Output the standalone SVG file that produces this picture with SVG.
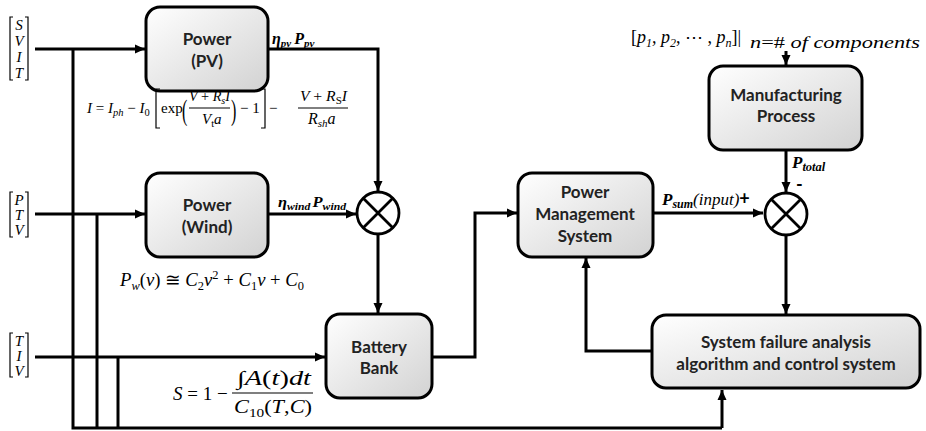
<svg xmlns="http://www.w3.org/2000/svg" width="926" height="431" viewBox="0 0 926 431">
<defs>
<linearGradient id="g" x1="0" y1="0" x2="1" y2="1">
<stop offset="0" stop-color="#ffffff"/>
<stop offset="1" stop-color="#d2d2d2"/>
</linearGradient>
<marker id="ar" markerUnits="userSpaceOnUse" markerWidth="11" markerHeight="10" refX="10" refY="5" orient="auto">
<path d="M0,0.5 L10,5 L0,9.5 z" fill="#000"/>
</marker>
</defs>
<style>
.box{fill:url(#g);stroke:#000;stroke-width:3}
.lbl{font-family:Lato,"Open Sans","Liberation Sans",sans-serif;font-weight:bold;font-size:17px;text-anchor:middle;fill:#222}
.m{font-family:"Liberation Serif","DejaVu Serif",serif;font-style:italic;fill:#000}
.u{font-style:normal}
.bi{font-family:"Liberation Serif","DejaVu Serif",serif;font-style:italic;font-weight:bold;fill:#000}
.c{fill:none;stroke:#000;stroke-width:3}
.ca{fill:none;stroke:#000;stroke-width:3;marker-end:url(#ar)}
.br{fill:none;stroke:#000;stroke-width:1.2}
.sum{fill:#fff;stroke:#000;stroke-width:2.8}
</style>
<rect width="926" height="431" fill="#fff"/>

<g id="connectors">
<path class="ca" d="M35,49 H145"/>
<path class="c" d="M73,49 V428 H722"/>
<path class="ca" d="M722,428 V390"/>
<path class="ca" d="M35,214 H145"/>
<path class="c" d="M97,214 V428"/>
<path class="ca" d="M35,357 H325"/>
<path class="c" d="M118,357 V428"/>
<path class="ca" d="M268,49 H378 V191"/>
<path class="ca" d="M268,214 H356"/>
<path class="ca" d="M378,235 V313"/>
<path class="ca" d="M432,357 H475 V213 H517"/>
<path class="ca" d="M653,213 H763"/>
<path class="ca" d="M786,51 V65"/>
<path class="ca" d="M786,150 V192"/>
<path class="ca" d="M786,235 V314"/>
<path class="ca" d="M652,351 H586 V258"/>
</g>

<g id="in-svit">
<path class="br" d="M13,17 H10 V80 H13 M25,17 H28 V80 H25"/>
<g class="m" font-size="15" text-anchor="middle">
<text x="19" y="30">S</text><text x="19" y="46">V</text><text x="19" y="62">I</text><text x="19" y="78">T</text>
</g>
</g>
<g id="in-ptv">
<path class="br" d="M13,192 H10 V237 H13 M25,192 H28 V237 H25"/>
<g class="m" font-size="15" text-anchor="middle">
<text x="19" y="205">P</text><text x="19" y="220">T</text><text x="19" y="235">V</text>
</g>
</g>
<g id="in-tiv">
<path class="br" d="M13,333 H10 V377 H13 M25,333 H28 V377 H25"/>
<g class="m" font-size="15" text-anchor="middle">
<text x="19" y="346">T</text><text x="19" y="361">I</text><text x="19" y="376">V</text>
</g>
</g>

<g id="pv">
<rect class="box" x="146" y="7" width="122" height="84" rx="14"/>
<text class="lbl" x="207" y="45">Power</text>
<text class="lbl" x="207" y="67">(PV)</text>
</g>
<g id="wind">
<rect class="box" x="146" y="173" width="122" height="84" rx="14"/>
<text class="lbl" x="207" y="211">Power</text>
<text class="lbl" x="207" y="233">(Wind)</text>
</g>
<g id="battery">
<rect class="box" x="326" y="314" width="106" height="84" rx="14"/>
<text class="lbl" x="379" y="353">Battery</text>
<text class="lbl" x="379" y="374">Bank</text>
</g>
<g id="pms">
<rect class="box" x="518" y="173" width="135" height="84" rx="14"/>
<text class="lbl" x="585" y="198">Power</text>
<text class="lbl" x="585" y="220">Management</text>
<text class="lbl" x="585" y="242">System</text>
</g>
<g id="mfg">
<rect class="box" x="709" y="66" width="153" height="84" rx="14"/>
<text class="lbl" x="786" y="101">Manufacturing</text>
<text class="lbl" x="786" y="122">Process</text>
</g>
<g id="sfa">
<rect class="box" x="652" y="315" width="268" height="73" rx="14"/>
<text class="lbl" x="786" y="348">System failure analysis</text>
<text class="lbl" x="786" y="370">algorithm and control system</text>
</g>

<g id="sum1">
<circle class="sum" cx="378" cy="213" r="21"/>
<path d="M363,198 L393,228 M393,198 L363,228" stroke="#000" stroke-width="2.8"/>
</g>
<g id="sum2">
<circle class="sum" cx="786" cy="214" r="21"/>
<path d="M771,199 L801,229 M801,199 L771,229" stroke="#000" stroke-width="2.8"/>
</g>

<g id="labels">
<text class="bi" x="272" y="44" font-size="16">η<tspan font-size="11" dy="3">pv</tspan><tspan dy="-3" dx="3">P</tspan><tspan font-size="11" dy="3">pv</tspan></text>
<text class="bi" x="278" y="207" font-size="15.5" textLength="68" lengthAdjust="spacingAndGlyphs">η<tspan font-size="11" dy="3">wind</tspan><tspan dy="-3" dx="2">P</tspan><tspan font-size="11" dy="3">wind</tspan></text>
<text x="662" y="205" font-size="17"><tspan class="bi">P</tspan><tspan class="bi" font-size="12" dy="3">sum</tspan><tspan class="m" dy="-3">(input)</tspan><tspan font-family="Lato,'Liberation Sans',sans-serif" font-weight="bold" font-size="18">+</tspan></text>
<text class="bi" x="792" y="168" font-size="17">P<tspan font-size="12.5" dy="3">total</tspan></text>
<text x="796" y="191" font-family="Lato,'Liberation Sans',sans-serif" font-weight="bold" font-size="18">-</text>
</g>

<g id="eq-top">
<text class="m" x="631" y="43" font-size="18"><tspan class="u">[</tspan>p<tspan font-size="12" dy="4">1</tspan><tspan dy="-4">, p</tspan><tspan font-size="12" dy="4">2</tspan><tspan dy="-4" class="u">, ⋯ , </tspan>p<tspan font-size="12" dy="4">n</tspan><tspan dy="-4" class="u">]|</tspan></text>
<text class="m" x="750" y="48" font-size="16" textLength="170" lengthAdjust="spacingAndGlyphs">n<tspan class="u">=#</tspan> of components</text>
</g>

<g id="eq-pv" class="m" font-size="15">
<text x="87" y="113">I <tspan class="u">=</tspan> I<tspan font-size="10.5" dy="3">ph</tspan><tspan class="u" dy="-3"> − </tspan>I<tspan class="u" font-size="10.5" dy="3">0</tspan></text>
<path class="br" d="M160,89 H156 V128 H160 M261,89 H265 V128 H261"/>
<text x="161" y="113" class="u">exp</text>
<text x="182" y="113" class="u" transform="translate(182,113) scale(1,1.8) translate(-182,-113)" font-size="16" dy="4">(</text>
<text x="189" y="101" textLength="41" lengthAdjust="spacingAndGlyphs">V <tspan class="u">+</tspan> R<tspan font-size="10.5" dy="3">s</tspan><tspan dy="-3">I</tspan></text>
<path d="M189,108 H230" stroke="#000" stroke-width="1"/>
<text x="202" y="124">V<tspan class="u" font-size="10.5" dy="3">t</tspan><tspan dy="-3">a</tspan></text>
<text x="231" y="113" class="u" transform="translate(231,113) scale(1,1.8) translate(-231,-113)" font-size="16" dy="4">)</text>
<text x="240" y="113" class="u">− 1</text>
<text x="269" y="113" class="u">−</text>
<text x="300" y="101" textLength="47" lengthAdjust="spacingAndGlyphs">V <tspan class="u">+</tspan> R<tspan class="u" font-size="10.5" dy="3">S</tspan><tspan dy="-3">I</tspan></text>
<path d="M298,108 H348" stroke="#000" stroke-width="1"/>
<text x="308" y="124" font-size="16">R<tspan font-size="11" dy="3">sh</tspan><tspan dy="-3">a</tspan></text>
</g>

<g id="eq-wind">
<text class="m" x="120" y="286" font-size="18" textLength="184" lengthAdjust="spacingAndGlyphs">P<tspan font-size="12" dy="4">w</tspan><tspan class="u" dy="-4">(</tspan>v<tspan class="u">) ≅ </tspan>C<tspan class="u" font-size="12" dy="4">2</tspan><tspan dy="-4">v</tspan><tspan class="u" font-size="12" dy="-7">2</tspan><tspan class="u" dy="7"> + </tspan>C<tspan class="u" font-size="12" dy="4">1</tspan><tspan dy="-4">v</tspan><tspan class="u"> + </tspan>C<tspan class="u" font-size="12" dy="4">0</tspan></text>
</g>

<g id="eq-batt" class="m" font-size="19">
<text x="173" y="400">S <tspan class="u">= 1 −</tspan></text>
<text x="237" y="385" font-size="20" textLength="74" lengthAdjust="spacingAndGlyphs"><tspan class="u">∫</tspan>A<tspan class="u">(</tspan>t<tspan class="u">)</tspan>dt</text>
<path d="M232,393 H313" stroke="#000" stroke-width="1.2"/>
<text x="234" y="413" textLength="78" lengthAdjust="spacingAndGlyphs">C<tspan class="u" font-size="13" dy="4">10</tspan><tspan class="u" dy="-4">(</tspan>T<tspan class="u">,</tspan>C<tspan class="u">)</tspan></text>
</g>
</svg>
